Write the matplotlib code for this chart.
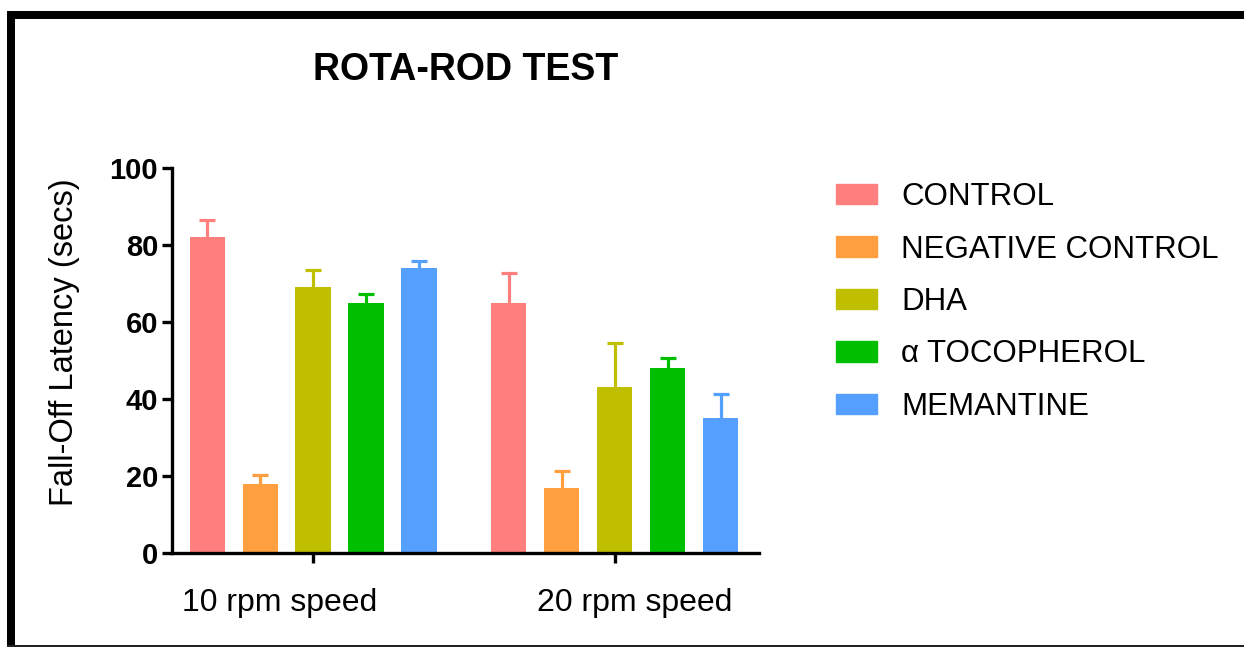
import matplotlib
matplotlib.use("Agg")
import matplotlib.pyplot as plt
import matplotlib.patches as mpatches
import matplotlib.transforms as mtransforms
import numpy as np

plt.rcParams["font.family"] = ["Liberation Sans", "DejaVu Sans"]

speeds = ["10 rpm speed", "20 rpm speed"]
groups = ["CONTROL", "NEGATIVE CONTROL", "DHA", "α TOCOPHEROL", "MEMANTINE"]
colors = ["#ff7f7f", "#ff9f40", "#bfbf00", "#00bf00", "#559fff"]

# mean latency (secs) per group, one value per speed
control     = [82, 65]
neg_control = [18, 17]
dha         = [69, 43]
tocopherol  = [65, 48]
memantine   = [74, 35]

# error (SEM), only the upper half is visible
control_err     = [4.5, 7.6]
neg_control_err = [2.2, 4.2]
dha_err         = [4.4, 11.5]
tocopherol_err  = [2.4, 2.6]
memantine_err   = [1.8, 6.3]

means = [control, neg_control, dha, tocopherol, memantine]
errs  = [control_err, neg_control_err, dha_err, tocopherol_err, memantine_err]

W, H = 1244, 648
fig = plt.figure(figsize=(W / 100, H / 100), dpi=100)
fig.patch.set_facecolor("white")

ax = fig.add_axes([172 / W, 1 - 553 / H, (759 - 172) / W, (553 - 168) / H])

x = np.arange(len(speeds))
step = 0.1755
width = 0.116

for i, (vals, err, c) in enumerate(zip(means, errs, colors)):
    pos = x + (i - 2) * step
    ax.bar(pos, vals, width, color=c, label=groups[i], zorder=2)
    # symmetric bars drawn behind the columns -> lower half hidden
    ax.errorbar(pos, vals, yerr=err, fmt="none",
                ecolor=c, elinewidth=2.3, capsize=6, capthick=2.3, zorder=1)

ax.set_xlim(-0.467, 1.477)
ax.set_ylim(0, 100)
ax.set_yticks([0, 20, 40, 60, 80, 100])
ax.set_xticks(x)
ax.set_xticklabels([])
for lab in ax.get_yticklabels():
    lab.set_fontsize(21)
    lab.set_fontweight("bold")

# group labels sit a little off their ticks in the original
label_shift = [-0.109, 0.066]
trans = mtransforms.blended_transform_factory(ax.transData, fig.transFigure)
for xi, s, name in zip(x, label_shift, speeds):
    ax.text(xi + s, 1 - 603 / H, name, transform=trans, fontsize=23,
            ha="center", va="center")

ax.spines["top"].set_visible(False)
ax.spines["right"].set_visible(False)
ax.spines["left"].set_linewidth(2.4)
ax.spines["bottom"].set_linewidth(2.4)
ax.tick_params(axis="both", direction="out", length=7, width=2.4, pad=3)

fig.text(65 / W, 1 - 342 / H, "Fall-Off Latency (secs)", fontsize=23.5,
         rotation=90, ha="center", va="center")

fig.text(466 / W, 1 - 70 / H, "ROTA-ROD TEST", fontsize=27, fontweight="bold",
         ha="center", va="center")

handles = [mpatches.Patch(color=c) for c in colors]
fig.legend(handles, groups, loc="upper left",
           bbox_to_anchor=(836 / W, 1 - 182 / H), frameon=False,
           fontsize=22.5, handlelength=1.31, handleheight=0.64,
           handletextpad=0.77, labelspacing=0.72, borderpad=0,
           borderaxespad=0)

# black frame around the picture (top, left, bottom)
fig.add_artist(mpatches.Rectangle((7 / W, 1 - 19 / H), 1 - 7 / W, 8 / H,
                                  transform=fig.transFigure, color="black", lw=0))
fig.add_artist(mpatches.Rectangle((7 / W, 1 - 647 / H), 8 / W, (647 - 11) / H,
                                  transform=fig.transFigure, color="black", lw=0))
fig.add_artist(mpatches.Rectangle((7 / W, 1 - 647 / H), 1 - 7 / W, 2 / H,
                                  transform=fig.transFigure, color="#222222", lw=0))

fig.savefig("out.png", dpi=100, facecolor=fig.get_facecolor())
